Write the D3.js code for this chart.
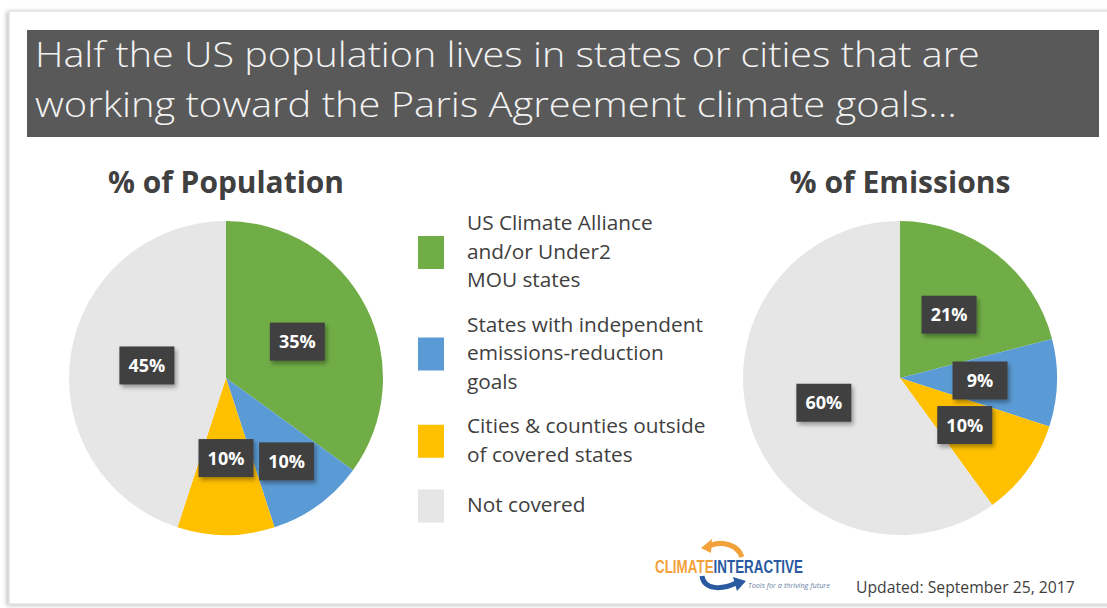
<!DOCTYPE html>
<html>
<head>
<meta charset="utf-8">
<script src="https://cdn.jsdelivr.net/npm/d3@7"></script>
<style>
  html, body { margin: 0; padding: 0; background: #ffffff; }
  svg { display: block; font-family: "Open Sans", "DejaVu Sans", sans-serif; }
</style>
</head>
<body>
<svg id="chart"></svg>
<script>
// ---- data ----
var categories = ["US Climate Alliance and/or Under2 MOU states",
                  "States with independent emissions-reduction goals",
                  "Cities & counties outside of covered states",
                  "Not covered"];
var legendLines = [["US Climate Alliance", "and/or Under2", "MOU states"],
                   ["States with independent", "emissions-reduction", "goals"],
                   ["Cities & counties outside", "of covered states"],
                   ["Not covered"]];
var populationShare = [35, 10, 10, 45];
var emissionsShare = [21, 9, 10, 60];
var sliceColors = ["#70ad47", "#5b9bd5", "#ffc000", "#e7e6e6"];

var titleLines = ["Half the US population lives in states or cities that are",
                  "working toward the Paris Agreement climate goals\u2026"];
var pieTitles = ["% of Population", "% of Emissions"];
var updatedText = "Updated: September 25, 2017";

var width = 1107, height = 608;
var svg = d3.select("#chart").attr("width", width).attr("height", height);

// shadows
var defs = svg.append("defs");
defs.append("filter").attr("id", "boxShadow")
    .attr("x", "-30%").attr("y", "-30%").attr("width", "160%").attr("height", "160%")
  .append("feDropShadow")
    .attr("dx", 2).attr("dy", 3).attr("stdDeviation", 2)
    .attr("flood-color", "#000").attr("flood-opacity", 0.35);
defs.append("filter").attr("id", "cardShadow")
    .attr("x", "-5%").attr("y", "-5%").attr("width", "110%").attr("height", "110%")
  .append("feDropShadow")
    .attr("dx", -2).attr("dy", 1).attr("stdDeviation", 2)
    .attr("flood-color", "#000").attr("flood-opacity", 0.25);

// scale a text's font size so it spans the wanted width
function fitWidth(sel, target) {
    var node = sel.node();
    var fs = parseFloat(sel.style("font-size"));
    var len = node.getComputedTextLength();
    sel.style("font-size", (fs * target / len) + "px");
}

// squeeze a text horizontally (condensed look) to the wanted width
function squeeze(g, text, x, y, target) {
    var len = text.node().getComputedTextLength();
    g.attr("transform", "translate(" + x + "," + y + ") scale(" + (target / len) + ",1)");
}

// slide card
svg.append("rect")
    .attr("x", 9).attr("y", 11)
    .attr("width", width + 20).attr("height", 593)
    .attr("fill", "#ffffff")
    .attr("stroke", "#d6d6d6")
    .attr("filter", "url(#cardShadow)");

// title banner
svg.append("rect")
    .attr("x", 27).attr("y", 30)
    .attr("width", 1072).attr("height", 107)
    .attr("fill", "#595959");

var titleY = [67, 117];
var titleW = [945, 922];
titleLines.forEach(function(t, i) {
    var g = svg.append("g");
    var tt = g.append("text")
        .attr("fill", "#f2f2f2")
        .style("font-size", "34px")
        .style("font-weight", 300)
        .text(t);
    squeeze(g, tt, 35, titleY[i], titleW[i]);
});

// pies
var pie = d3.pie().sort(null).value(function(d) { return d; });
var R = 157;
var arc = d3.arc().innerRadius(0).outerRadius(R);
var boxW = 55, boxH = 38, gap = 5;

function drawPie(values, cx, cy, title, titleWidth) {
    var g = svg.append("g").attr("transform", "translate(" + cx + "," + cy + ")");

    var t = g.append("text")
        .attr("x", 0).attr("y", -185)
        .attr("text-anchor", "middle")
        .attr("fill", "#404040")
        .style("font-weight", "bold")
        .style("font-size", "26px")
        .text(title);
    fitWidth(t, titleWidth);

    var arcs = pie(values);
    g.selectAll("path.slice")
        .data(arcs)
        .enter()
        .append("path")
            .attr("class", "slice")
            .attr("d", arc)
            .attr("fill", function(d, i) { return sliceColors[i]; });

    // label placement: centroid at half radius, pushed outward on overlap
    var placed = [];
    var labels = [];
    for (var k = arcs.length - 1; k >= 0; k--) {
        var a = arcs[k];
        var mid = (a.startAngle + a.endAngle) / 2;
        var r = R * 0.51, x, y;
        while (true) {
            x = Math.sin(mid) * r;
            y = -Math.cos(mid) * r;
            var hit = placed.some(function(p) {
                return Math.abs(p.x - x) < boxW + gap && Math.abs(p.y - y) < boxH + gap;
            });
            if (!hit || r > R) break;
            r += 1;
        }
        placed.push({x: x, y: y});
        labels.push({x: x, y: y, v: a.data});
    }

    var lab = g.selectAll("g.lab")
        .data(labels)
        .enter()
        .append("g")
            .attr("class", "lab")
            .attr("transform", function(d) { return "translate(" + d.x + "," + d.y + ")"; });
    lab.append("rect")
        .attr("x", -boxW / 2).attr("y", -boxH / 2)
        .attr("width", boxW).attr("height", boxH)
        .attr("fill", "#404040")
        .attr("filter", "url(#boxShadow)");
    lab.append("text")
        .attr("text-anchor", "middle")
        .attr("dy", "0.36em")
        .attr("fill", "#ffffff")
        .style("font-weight", "bold")
        .style("font-size", "18px")
        .text(function(d) { return d.v + "%"; });
}

drawPie(populationShare, 226, 378, pieTitles[0], 236);
drawPie(emissionsShare, 900, 378, pieTitles[1], 221);

// legend
var legend = svg.append("g");
var lineH = 28.5, y0 = 230, legendFont = null;
categories.forEach(function(c, i) {
    var lines = legendLines[i];
    var gItem = legend.append("g");
    var tx = gItem.append("text")
        .attr("fill", "#404040")
        .style("font-size", "18px");
    lines.forEach(function(l, j) {
        tx.append("tspan")
            .attr("x", 467)
            .attr("y", y0 + j * lineH)
            .text(l);
    });
    if (i === 1) {
        // size every legend entry from the widest line
        var probe = legend.append("text").style("font-size", "18px").text(lines[0]);
        fitWidth(probe, 236);
        legendFont = probe.style("font-size");
        probe.remove();
    }
    var blockMid = y0 - 6 + (lines.length - 1) * lineH / 2;
    gItem.append("rect")
        .attr("x", 418)
        .attr("y", blockMid - 16.5)
        .attr("width", 26).attr("height", 33)
        .attr("fill", sliceColors[i]);
    y0 += lines.length * lineH + (i === 2 ? 22 : 16);
});
legend.selectAll("text").style("font-size", legendFont);

// footer: logo + date
var logo = svg.append("g");
logo.append("path")
    .attr("d", "M742,557 C738,545 722,540 709,546")
    .attr("fill", "none").attr("stroke", "#f2a23a").attr("stroke-width", 5);
logo.append("path")
    .attr("d", "M701,548 L712,539 L711,553 Z")
    .attr("fill", "#f2a23a");
logo.append("path")
    .attr("d", "M702,576 C704,590 722,590 736,583")
    .attr("fill", "none").attr("stroke", "#2a5aa0").attr("stroke-width", 5);
logo.append("path")
    .attr("d", "M746,581 L733,577 L737,591 Z")
    .attr("fill", "#2a5aa0");
var brandG = logo.append("g");
var brand = brandG.append("text")
    .style("font-family", "'Liberation Sans', Arial, sans-serif")
    .style("font-weight", "bold").style("font-size", "19px");
brand.append("tspan").attr("fill", "#f2a23a").text("CLIMATE");
brand.append("tspan").attr("fill", "#2a5aa0").text("INTERACTIVE");
squeeze(brandG, brand, 655, 573, 148);

var tagG = logo.append("g");
var tag = tagG.append("text")
    .attr("fill", "#6a7f9f")
    .style("font-style", "italic").style("font-size", "7px")
    .text("Tools for a thriving future");
squeeze(tagG, tag, 748, 588, 82);

var upd = svg.append("text")
    .attr("x", 856).attr("y", 593)
    .attr("fill", "#404040")
    .style("font-size", "15px")
    .text(updatedText);
fitWidth(upd, 219);
</script>
</body>
</html>
